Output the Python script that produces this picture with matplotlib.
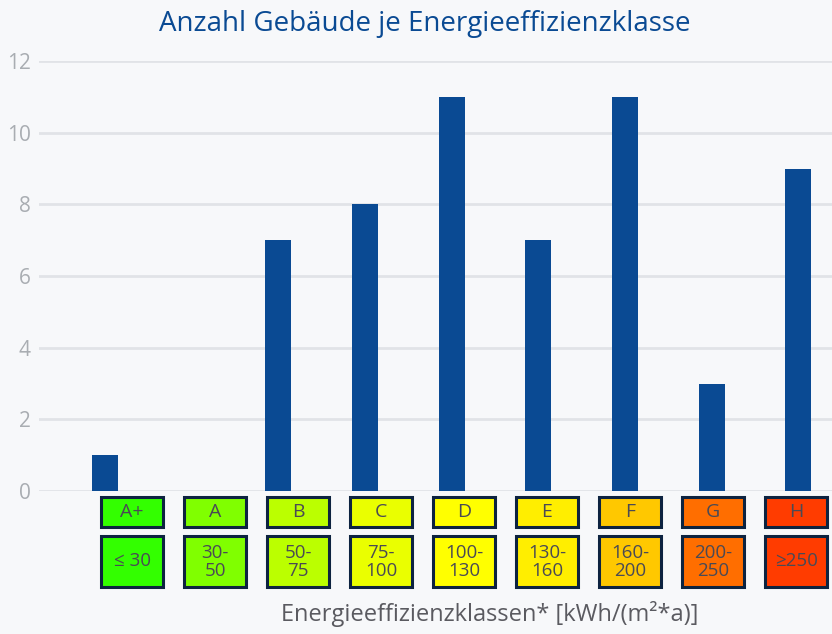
import matplotlib.pyplot as plt
from matplotlib.patches import Rectangle

plt.rcParams['font.family'] = ['Open Sans', 'DejaVu Sans']

classes = ['A+', 'A', 'B', 'C', 'D', 'E', 'F', 'G', 'H']
counts = [1, 0, 7, 8, 11, 7, 11, 3, 9]
ranges = ['≤ 30', '30-\n50', '50-\n75', '75-\n100', '100-\n130',
          '130-\n160', '160-\n200', '200-\n250', '≥250']
class_colors = ['#33ff00', '#80ff00', '#bbff00', '#eaff00', '#ffff00',
                '#ffee00', '#ffc800', '#ff6e00', '#ff3c00']
yticks = [0, 2, 4, 6, 8, 10, 12]

bg = '#f7f8fa'
blue = '#0a4a93'

W, H = 832, 634
fig = plt.figure(figsize=(W / 100, H / 100), dpi=100, facecolor=bg)

# main bar axes
ax = fig.add_axes([39 / W, (H - 491) / H, (832 - 39) / W, 430 / H])
ax.set_facecolor(bg)
x = range(len(classes))
ax.bar(x, counts, width=0.3, color=blue, zorder=3)
ax.set_xlim(-0.762, 8.39)
ax.set_ylim(0, 12)
ax.set_yticks(yticks)
ax.set_xticks([])
ax.tick_params(axis='y', length=0, pad=6, labelsize=15, labelcolor='#a9adb2')
ax.grid(True, axis='y', color='#e1e3e7', linewidth=2)
ax.set_axisbelow(True)
for spine in ax.spines.values():
    spine.set_visible(False)

fig.text(425 / W, 1 - 24 / H, 'Anzahl Gebäude je Energieeffizienzklasse',
         ha='center', va='center', fontsize=20, color=blue)

# colored class boxes below the bars
bx = fig.add_axes([90.5 / W, (H - 590) / H, 747 / W, 96 / H])
bx.set_xlim(-0.5, 8.5)
bx.set_ylim(0, 96)
bx.axis('off')
bw = 62 / 83
for i, (c, r, col) in enumerate(zip(classes, ranges, class_colors)):
    bx.add_patch(Rectangle((i - bw / 2, 63), bw, 30, facecolor=col,
                           edgecolor='#0d2340', linewidth=2.2))
    bx.add_patch(Rectangle((i - bw / 2, 3), bw, 51, facecolor=col,
                           edgecolor='#0d2340', linewidth=2.2))
    bx.text(i, 78, c, ha='center', va='center', fontsize=14, color='#4a4a55')
    bx.text(i, 28.5, r, ha='center', va='center', fontsize=13.5,
            color='#4a4a55', linespacing=1.0)

fig.text(490 / W, 1 - 614 / H, 'Energieeffizienzklassen* [kWh/(m²*a)]',
         ha='center', va='center', fontsize=17, color='#5a5a60')

fig.savefig('out.png', dpi=100, facecolor=bg)
